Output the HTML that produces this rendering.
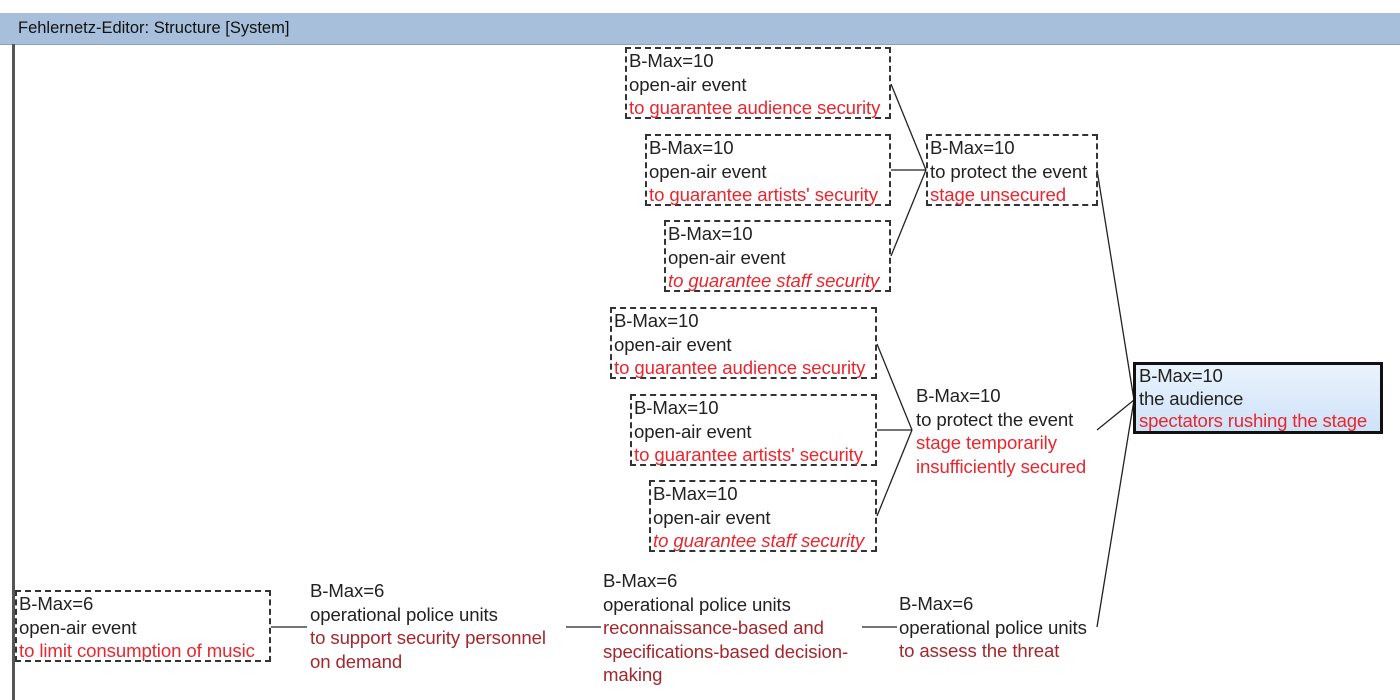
<!DOCTYPE html>
<html><head><meta charset="utf-8"><style>
html,body{margin:0;padding:0;width:1400px;height:700px;overflow:hidden;background:#fff;font-family:"Liberation Sans",Arial,sans-serif;}
#title{position:absolute;left:0;top:13px;width:1400px;height:31px;background:#a7bfda;border-bottom:1px solid #8aa2c0;}
#title span{position:absolute;left:18px;top:6px;font-size:16.5px;color:#111;}
#lb{position:absolute;left:12px;top:44px;width:3px;height:656px;background:#555;}
.n{position:absolute;font-size:18.6px;line-height:23.5px;color:#222;white-space:nowrap;letter-spacing:-0.1px;}
.b{border:2px dashed #333;padding:0 2px 0 2px;box-sizing:border-box;}
.r{color:#e8272f;}
.d{color:#a3282e;}
.i{font-style:italic;}
#root{position:absolute;left:1133px;top:362px;width:250px;height:72px;border:3px solid #111;box-sizing:border-box;background:linear-gradient(#eaf3fd,#cfe2f8);padding:0 0 0 3px;font-size:18.6px;line-height:22.5px;color:#222;white-space:nowrap;letter-spacing:-0.2px;}
svg{position:absolute;left:0;top:0;}
</style></head><body>
<div id="title"><span>Fehlernetz-Editor: Structure [System]</span></div>
<div id="lb"></div>
<svg width="1400" height="700"><g stroke="#222" stroke-width="1.3" fill="none">
<line x1="891" y1="84" x2="926" y2="170"/>
<line x1="891" y1="170" x2="926" y2="170"/>
<line x1="891" y1="256" x2="926" y2="170"/>
<line x1="1097" y1="170" x2="1134" y2="400"/>
<line x1="877" y1="344" x2="912" y2="430"/>
<line x1="877" y1="430" x2="912" y2="430"/>
<line x1="877" y1="516" x2="912" y2="430"/>
<line x1="1097" y1="430" x2="1134" y2="400"/>
<line x1="1097" y1="627" x2="1134" y2="400"/>
<line x1="271" y1="627" x2="307" y2="627"/>
<line x1="566" y1="627" x2="601" y2="627"/>
<line x1="862" y1="627" x2="897" y2="627"/>
</g></svg>
<div class="n b" style="left:625px;top:47px;width:266px;height:72px">B-Max=10<br>open-air event<br><span class="r">to guarantee audience security</span></div>
<div class="n b" style="left:645px;top:134px;width:246px;height:72px">B-Max=10<br>open-air event<br><span class="r">to guarantee artists' security</span></div>
<div class="n b" style="left:664px;top:220px;width:227px;height:72px">B-Max=10<br>open-air event<br><span class="r i">to guarantee staff security</span></div>
<div class="n b" style="left:926px;top:134px;width:172px;height:72px">B-Max=10<br>to protect the event<br><span class="r">stage unsecured</span></div>
<div class="n b" style="left:610px;top:307px;width:267px;height:72px">B-Max=10<br>open-air event<br><span class="r">to guarantee audience security</span></div>
<div class="n b" style="left:630px;top:394px;width:247px;height:72px">B-Max=10<br>open-air event<br><span class="r">to guarantee artists' security</span></div>
<div class="n b" style="left:649px;top:480px;width:228px;height:72px">B-Max=10<br>open-air event<br><span class="r i">to guarantee staff security</span></div>
<div class="n" style="left:916px;top:384px">B-Max=10<br>to protect the event<br><span class="r">stage temporarily<br>insufficiently secured</span></div>
<div id="root">B-Max=10<br>the audience<br><span class="r">spectators rushing the stage</span></div>
<div class="n b" style="left:15px;top:590px;width:256px;height:72px">B-Max=6<br>open-air event<br><span class="r">to limit consumption of music</span></div>
<div class="n" style="left:310px;top:579px">B-Max=6<br>operational police units<br><span class="d">to support security personnel<br>on demand</span></div>
<div class="n" style="left:603px;top:569px">B-Max=6<br>operational police units<br><span class="d">reconnaissance-based and<br>specifications-based decision-<br>making</span></div>
<div class="n" style="left:899px;top:592px">B-Max=6<br>operational police units<br><span class="d">to assess the threat</span></div>
</body></html>
